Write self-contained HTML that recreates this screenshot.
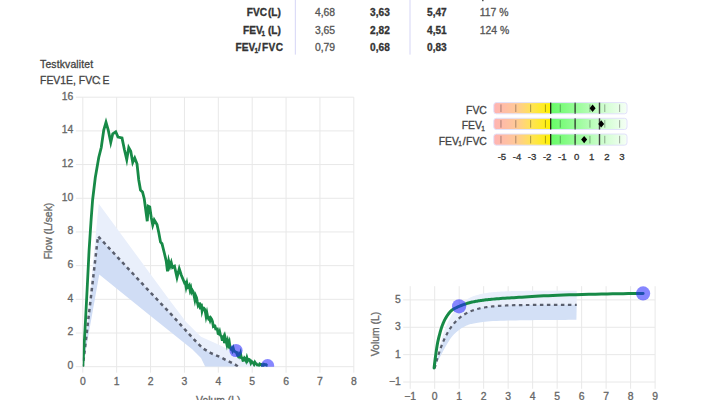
<!DOCTYPE html>
<html lang="nb"><head><meta charset="utf-8"><title>Spirometri</title>
<style>html,body{margin:0;padding:0;background:#fff;}body{width:712px;height:400px;overflow:hidden;}svg{display:block;font-family:"Liberation Sans",Arial,Helvetica,sans-serif;}text{stroke-width:0.3px;}.k333 text{stroke:#333}.k555 text{stroke:#555}.k444 text{stroke:#444}.k666 text{stroke:#666}</style>
</head><body>
<svg width="712" height="400" viewBox="0 0 712 400">
<defs>
<linearGradient id="zg" x1="0" y1="0" x2="1" y2="0">
<stop offset="0" stop-color="#ffb3b3"/>
<stop offset="0.1650" stop-color="#ffc898"/>
<stop offset="0.2764" stop-color="#ffe25a"/>
<stop offset="0.4272" stop-color="#fff200"/>
<stop offset="0.4272" stop-color="#66fb66"/>
<stop offset="0.6104" stop-color="#96fc96"/>
<stop offset="0.7935" stop-color="#c8fdc8"/>
<stop offset="1" stop-color="#f6fff6"/>
</linearGradient>
<clipPath id="c1"><rect x="82.8" y="97.2" width="271.0" height="269.5"/></clipPath>
<clipPath id="c2"><rect x="410.2" y="286.2" width="244.90000000000003" height="95.80000000000001"/></clipPath>
</defs>
<g font-size="10.4" fill="#333" class="k333">
<rect x="294.8" y="0" width="1.2" height="54.6" fill="#dcdcf7"/>
<rect x="409.4" y="0" width="1.2" height="54.6" fill="#dcdcf7"/>
<rect x="482" y="0" width="1.6" height="1.2" fill="#555"/>
<g font-weight="bold" text-anchor="end" font-size="10.15">
<text x="246.8" y="15.7" text-anchor="start">FVC</text><text x="280.9" y="15.7">(L)</text>
<text x="243" y="33.7" text-anchor="start">FEV</text><text x="261.6" y="35.5" font-size="6.4" text-anchor="start">1</text><text x="280.9" y="33.7">(L)</text>
<text x="235.6" y="51.2" text-anchor="start">FEV</text><text x="254.6" y="53.0" font-size="6.4" text-anchor="start">1</text><text x="258" y="51.2" text-anchor="start">/</text><text x="283" y="51.2" textLength="21" lengthAdjust="spacing">FVC</text>
</g>
<g fill="#555" class="k555">
<text x="314.9" y="15.7">4,68</text>
<text x="314.9" y="33.7">3,65</text>
<text x="314.9" y="51.2">0,79</text>
</g>
<g font-weight="bold" font-size="10.15">
<text x="370.1" y="15.7">3,63</text>
<text x="370.1" y="33.7">2,82</text>
<text x="370.1" y="51.2">0,68</text>
<text x="427" y="15.7">5,47</text>
<text x="427" y="33.7">4,51</text>
<text x="427" y="51.2">0,83</text>
</g>
<g fill="#555" class="k555">
<text x="479.8" y="15.7">117 %</text>
<text x="479.8" y="33.7">124 %</text>
</g>
</g>
<g font-size="10.4" fill="#444" class="k444">
<text x="40.1" y="67.8" textLength="53" lengthAdjust="spacing">Testkvalitet</text>
<text x="40.1" y="83.7">FEV1E, FVC<tspan dx="-1.6">:</tspan><tspan dx="-1.2"> E</tspan></text>
</g>
<g stroke="#e8e8e8" stroke-width="1" fill="none">
<line x1="82.80" y1="97.2" x2="82.80" y2="372.7"/>
<line x1="116.67" y1="97.2" x2="116.67" y2="372.7"/>
<line x1="150.55" y1="97.2" x2="150.55" y2="372.7"/>
<line x1="184.43" y1="97.2" x2="184.43" y2="372.7"/>
<line x1="218.30" y1="97.2" x2="218.30" y2="372.7"/>
<line x1="252.18" y1="97.2" x2="252.18" y2="372.7"/>
<line x1="286.05" y1="97.2" x2="286.05" y2="372.7"/>
<line x1="319.93" y1="97.2" x2="319.93" y2="372.7"/>
<line x1="353.80" y1="97.2" x2="353.80" y2="372.7"/>
<line x1="75.8" y1="366.70" x2="353.8" y2="366.70"/>
<line x1="75.8" y1="333.01" x2="353.8" y2="333.01"/>
<line x1="75.8" y1="299.32" x2="353.8" y2="299.32"/>
<line x1="75.8" y1="265.64" x2="353.8" y2="265.64"/>
<line x1="75.8" y1="231.95" x2="353.8" y2="231.95"/>
<line x1="75.8" y1="198.26" x2="353.8" y2="198.26"/>
<line x1="75.8" y1="164.57" x2="353.8" y2="164.57"/>
<line x1="75.8" y1="130.89" x2="353.8" y2="130.89"/>
<line x1="75.8" y1="97.20" x2="353.8" y2="97.20"/>
</g>
<g font-size="10.4" fill="#666" class="k666">
<text x="73.3" y="369.00" text-anchor="end" font-size="10.4">0</text>
<text x="73.3" y="335.31" text-anchor="end" font-size="10.4">2</text>
<text x="73.3" y="301.62" text-anchor="end" font-size="10.4">4</text>
<text x="73.3" y="267.94" text-anchor="end" font-size="10.4">6</text>
<text x="73.3" y="234.25" text-anchor="end" font-size="10.4">8</text>
<text x="73.3" y="200.56" text-anchor="end" font-size="10.4">10</text>
<text x="73.3" y="166.88" text-anchor="end" font-size="10.4">12</text>
<text x="73.3" y="133.19" text-anchor="end" font-size="10.4">14</text>
<text x="73.3" y="99.50" text-anchor="end" font-size="10.4">16</text>
<text x="82.80" y="385.0" text-anchor="middle" font-size="10.4">0</text>
<text x="116.67" y="385.0" text-anchor="middle" font-size="10.4">1</text>
<text x="150.55" y="385.0" text-anchor="middle" font-size="10.4">2</text>
<text x="184.43" y="385.0" text-anchor="middle" font-size="10.4">3</text>
<text x="218.30" y="385.0" text-anchor="middle" font-size="10.4">4</text>
<text x="252.18" y="385.0" text-anchor="middle" font-size="10.4">5</text>
<text x="286.05" y="385.0" text-anchor="middle" font-size="10.4">6</text>
<text x="319.93" y="385.0" text-anchor="middle" font-size="10.4">7</text>
<text x="353.80" y="385.0" text-anchor="middle" font-size="10.4">8</text>
<text x="218.3" y="403.6" text-anchor="middle">Volum (L)</text>
<text transform="translate(52,231) rotate(-90)" text-anchor="middle">Flow (L/sek)</text>
</g>
<g clip-path="url(#c1)">
<polygon points="82.80,366.70 98.75,203.75 169.10,299.50 186.10,322.00 201.00,336.75 220.00,345.25 241.40,355.90 260.50,363.30 265.00,366.70 238.00,366.70 235.00,364.40 228.00,361.00 220.00,357.00 211.00,353.20 203.00,348.40 197.00,342.50 192.50,337.80 171.25,314.40 150.00,292.00 98.00,236.25 82.80,366.70" fill="#e9effb"/>
<polygon points="82.80,366.70 98.00,236.25 150.00,292.00 171.25,314.40 192.50,337.80 197.00,342.50 203.00,348.40 211.00,353.20 220.00,357.00 228.00,361.00 235.00,364.40 238.00,366.70 205.25,366.70 201.00,358.00 192.50,349.50 171.25,332.50 150.00,315.50 99.25,274.50 82.80,366.70" fill="#d0ddf5"/>
<polyline points="82.80,366.70 98.00,236.25 150.00,292.00 171.25,314.40 192.50,337.80 197.00,342.50 203.00,348.40 211.00,353.20 220.00,357.00 228.00,361.00 235.00,364.40 238.00,366.70" fill="none" stroke="#5a5f6e" stroke-width="2.5" stroke-dasharray="3.5 3.5" stroke-dashoffset="1.2"/>
<polyline points="82.80,366.70 85.00,330.00 87.10,290.00 89.10,250.00 91.10,220.00 92.60,200.00 95.30,177.50 98.75,157.50 101.25,147.50 103.75,130.00 106.00,122.20 108.25,130.00 110.75,142.40 112.75,133.75 115.75,131.75 118.00,137.00 122.00,138.00 124.50,150.00 126.75,159.60 128.75,147.60 130.75,151.25 132.75,162.40 134.75,158.00 137.00,163.75 138.75,180.00 140.50,190.00 142.50,192.00 144.25,198.75 145.75,210.00 147.25,221.25 148.25,206.25 149.75,207.00 151.25,217.50 152.75,225.00 154.25,220.00 157.00,224.50 158.75,232.50 160.50,242.00 162.00,243.75 164.50,253.75 166.25,261.25 167.50,271.25 168.75,261.25 170.00,266.25 171.25,262.50 172.50,267.50 174.50,266.25 177.00,277.50 179.25,268.75 181.25,275.00 183.75,281.00 184.50,282.88 185.30,282.44 186.10,286.84 186.90,283.47 187.70,287.61 188.50,287.18 189.30,285.79 190.10,290.23 190.90,288.04 191.70,292.09 192.50,290.67 193.30,292.02 194.10,295.62 194.90,299.71 195.70,295.85 196.50,297.76 197.30,301.87 198.10,305.37 198.90,303.90 199.70,303.80 200.50,309.17 201.30,303.67 202.10,310.72 202.90,307.82 203.70,307.97 204.50,308.98 205.30,311.55 206.10,316.40 206.90,313.03 207.70,317.12 208.50,318.73 209.30,318.02 210.10,320.48 210.90,318.19 211.70,319.37 212.50,321.63 213.30,326.25 214.10,325.61 214.90,325.86 215.70,328.88 216.50,329.00 217.30,328.96 218.10,333.59 218.90,333.97 219.70,331.76 220.50,335.20 221.30,335.91 222.10,339.50 222.90,339.43 223.70,337.22 224.50,343.17 225.30,337.92 226.10,341.05 226.90,344.45 227.70,341.06 228.50,344.45 229.30,342.13 230.10,347.44 230.90,348.92 231.70,348.32 232.50,350.53 233.30,348.39 234.10,351.16 234.90,351.41 235.70,352.12 236.50,352.20 237.30,354.87 238.10,356.09 238.90,354.33 239.70,355.99 240.50,353.53 241.30,357.54 242.10,357.94 242.90,360.42 243.70,360.21 244.50,358.00 245.30,358.92 246.10,360.77 246.90,357.80 247.70,360.47 248.50,359.33 249.30,359.46 250.10,360.60 250.90,362.98 251.70,361.57 252.50,362.29 253.30,362.87 254.10,364.39 254.90,362.35 255.70,363.56 256.50,364.01 257.30,365.12 258.10,365.12 258.90,365.42 259.70,363.95 260.50,364.51 261.30,364.47 262.10,366.03 262.90,366.33 263.70,364.17 264.50,364.33 265.30,364.58 266.10,364.68 266.90,365.48 267.60,365.60" fill="none" stroke="#178a47" stroke-width="2.8" stroke-linejoin="miter" stroke-miterlimit="6"/>
<circle cx="236" cy="350.5" r="6.6" fill="#2222ff" fill-opacity="0.55"/>
<circle cx="267.6" cy="365.6" r="6.6" fill="#2222ff" fill-opacity="0.55"/>
</g>
<g font-size="10.4" fill="#444" class="k444" text-anchor="end">
<text x="486.9" y="113.5">FVC</text>
<text x="484.8" y="129.2">FEV<tspan font-size="6.6" dy="1.6" dx="-0.8">1</tspan></text>
<text x="486.9" y="144.8">FEV<tspan font-size="6.6" dy="1.6" dx="-0.8">1</tspan><tspan dy="-1.6" dx="0.9">/</tspan><tspan dx="0.5">FVC</tspan></text>
</g>
<rect x="493.8" y="102.6" width="133.2" height="11.2" rx="2.5" fill="url(#zg)" stroke="#e2e2fb" stroke-width="1"/>
<rect x="500.40" y="104.39999999999999" width="1.1" height="7.6" fill="#000" fill-opacity="0.3"/>
<rect x="515.23" y="104.39999999999999" width="1.1" height="7.6" fill="#000" fill-opacity="0.3"/>
<rect x="530.06" y="104.39999999999999" width="1.1" height="7.6" fill="#000" fill-opacity="0.3"/>
<rect x="544.89" y="104.39999999999999" width="1.1" height="7.6" fill="#000" fill-opacity="0.3"/>
<rect x="559.72" y="104.39999999999999" width="1.1" height="7.6" fill="#000" fill-opacity="0.3"/>
<rect x="574.55" y="104.39999999999999" width="1.1" height="7.6" fill="#000" fill-opacity="0.3"/>
<rect x="589.38" y="104.39999999999999" width="1.1" height="7.6" fill="#000" fill-opacity="0.3"/>
<rect x="604.21" y="104.39999999999999" width="1.1" height="7.6" fill="#000" fill-opacity="0.3"/>
<rect x="619.04" y="104.39999999999999" width="1.1" height="7.6" fill="#000" fill-opacity="0.3"/>
<rect x="550.10" y="102.6" width="1.2" height="11.2" fill="#111"/>
<rect x="574.60" y="102.6" width="1.0" height="11.2" fill="#222"/>
<rect x="598.80" y="102.6" width="1.4" height="11.2" fill="#444"/>
<polygon points="592.60,104.50 595.60,108.20 592.60,111.90 589.60,108.20" fill="#000"/>
<rect x="493.8" y="118.3" width="133.2" height="11.2" rx="2.5" fill="url(#zg)" stroke="#e2e2fb" stroke-width="1"/>
<rect x="500.40" y="120.1" width="1.1" height="7.6" fill="#000" fill-opacity="0.3"/>
<rect x="515.23" y="120.1" width="1.1" height="7.6" fill="#000" fill-opacity="0.3"/>
<rect x="530.06" y="120.1" width="1.1" height="7.6" fill="#000" fill-opacity="0.3"/>
<rect x="544.89" y="120.1" width="1.1" height="7.6" fill="#000" fill-opacity="0.3"/>
<rect x="559.72" y="120.1" width="1.1" height="7.6" fill="#000" fill-opacity="0.3"/>
<rect x="574.55" y="120.1" width="1.1" height="7.6" fill="#000" fill-opacity="0.3"/>
<rect x="589.38" y="120.1" width="1.1" height="7.6" fill="#000" fill-opacity="0.3"/>
<rect x="604.21" y="120.1" width="1.1" height="7.6" fill="#000" fill-opacity="0.3"/>
<rect x="619.04" y="120.1" width="1.1" height="7.6" fill="#000" fill-opacity="0.3"/>
<rect x="550.10" y="118.3" width="1.2" height="11.2" fill="#111"/>
<rect x="574.60" y="118.3" width="1.0" height="11.2" fill="#222"/>
<rect x="598.80" y="118.3" width="1.4" height="11.2" fill="#444"/>
<polygon points="601.20,120.20 604.20,123.90 601.20,127.60 598.20,123.90" fill="#000"/>
<rect x="493.8" y="134.0" width="133.2" height="11.2" rx="2.5" fill="url(#zg)" stroke="#e2e2fb" stroke-width="1"/>
<rect x="500.40" y="135.8" width="1.1" height="7.6" fill="#000" fill-opacity="0.3"/>
<rect x="515.23" y="135.8" width="1.1" height="7.6" fill="#000" fill-opacity="0.3"/>
<rect x="530.06" y="135.8" width="1.1" height="7.6" fill="#000" fill-opacity="0.3"/>
<rect x="544.89" y="135.8" width="1.1" height="7.6" fill="#000" fill-opacity="0.3"/>
<rect x="559.72" y="135.8" width="1.1" height="7.6" fill="#000" fill-opacity="0.3"/>
<rect x="574.55" y="135.8" width="1.1" height="7.6" fill="#000" fill-opacity="0.3"/>
<rect x="589.38" y="135.8" width="1.1" height="7.6" fill="#000" fill-opacity="0.3"/>
<rect x="604.21" y="135.8" width="1.1" height="7.6" fill="#000" fill-opacity="0.3"/>
<rect x="619.04" y="135.8" width="1.1" height="7.6" fill="#000" fill-opacity="0.3"/>
<rect x="550.10" y="134.0" width="1.2" height="11.2" fill="#111"/>
<rect x="574.60" y="134.0" width="1.0" height="11.2" fill="#222"/>
<rect x="598.80" y="134.0" width="1.4" height="11.2" fill="#444"/>
<polygon points="584.15,135.90 587.15,139.60 584.15,143.30 581.15,139.60" fill="#000"/>
<g font-size="9.6" fill="#333" class="k333" text-anchor="middle">
<text x="501.90" y="159.6">-5</text>
<text x="516.99" y="159.6">-4</text>
<text x="532.08" y="159.6">-3</text>
<text x="547.17" y="159.6">-2</text>
<text x="562.26" y="159.6">-1</text>
<text x="576.65" y="159.6">0</text>
<text x="591.74" y="159.6">1</text>
<text x="606.83" y="159.6">2</text>
<text x="621.92" y="159.6">3</text>
</g>
<g stroke="#e8e8e8" stroke-width="1" fill="none">
<line x1="410.20" y1="286.2" x2="410.20" y2="388.8"/>
<line x1="434.69" y1="286.2" x2="434.69" y2="388.8"/>
<line x1="459.18" y1="286.2" x2="459.18" y2="388.8"/>
<line x1="483.67" y1="286.2" x2="483.67" y2="388.8"/>
<line x1="508.16" y1="286.2" x2="508.16" y2="388.8"/>
<line x1="532.65" y1="286.2" x2="532.65" y2="388.8"/>
<line x1="557.14" y1="286.2" x2="557.14" y2="388.8"/>
<line x1="581.63" y1="286.2" x2="581.63" y2="388.8"/>
<line x1="606.12" y1="286.2" x2="606.12" y2="388.8"/>
<line x1="630.61" y1="286.2" x2="630.61" y2="388.8"/>
<line x1="655.10" y1="286.2" x2="655.10" y2="388.8"/>
<line x1="403.2" y1="382.00" x2="655.1" y2="382.00"/>
<line x1="403.2" y1="354.63" x2="655.1" y2="354.63"/>
<line x1="403.2" y1="327.26" x2="655.1" y2="327.26"/>
<line x1="403.2" y1="299.89" x2="655.1" y2="299.89"/>
</g>
<g font-size="10.4" fill="#666" class="k666">
<text x="400.9" y="385.00" text-anchor="end" font-size="10.4">−1</text>
<text x="400.9" y="357.63" text-anchor="end" font-size="10.4">1</text>
<text x="400.9" y="330.26" text-anchor="end" font-size="10.4">3</text>
<text x="400.9" y="302.89" text-anchor="end" font-size="10.4">5</text>
<text x="410.20" y="400.3" text-anchor="middle" font-size="10.4">−1</text>
<text x="434.69" y="400.3" text-anchor="middle" font-size="10.4">0</text>
<text x="459.18" y="400.3" text-anchor="middle" font-size="10.4">1</text>
<text x="483.67" y="400.3" text-anchor="middle" font-size="10.4">2</text>
<text x="508.16" y="400.3" text-anchor="middle" font-size="10.4">3</text>
<text x="532.65" y="400.3" text-anchor="middle" font-size="10.4">4</text>
<text x="557.14" y="400.3" text-anchor="middle" font-size="10.4">5</text>
<text x="581.63" y="400.3" text-anchor="middle" font-size="10.4">6</text>
<text x="606.12" y="400.3" text-anchor="middle" font-size="10.4">7</text>
<text x="630.61" y="400.3" text-anchor="middle" font-size="10.4">8</text>
<text x="655.10" y="400.3" text-anchor="middle" font-size="10.4">9</text>
<text transform="translate(378.5,334) rotate(-90)" text-anchor="middle">Volum (L)</text>
</g>
<g clip-path="url(#c2)">
<polygon points="434.69,368.31 435.87,362.30 437.06,356.75 438.24,351.63 439.42,346.90 440.61,342.55 441.79,338.53 442.98,334.82 444.16,331.40 445.34,328.24 446.53,325.33 447.71,322.65 448.89,320.17 450.08,317.89 451.26,315.78 452.45,313.84 453.63,312.05 454.81,310.39 456.00,308.87 457.18,307.46 458.36,306.16 459.55,304.96 460.73,303.86 461.91,302.84 463.10,301.90 464.28,301.03 465.47,300.23 466.65,299.49 467.83,298.81 469.02,298.19 470.20,297.61 471.38,297.07 472.57,296.58 473.75,296.12 474.94,295.70 476.12,295.32 477.30,294.96 478.49,294.63 479.67,294.33 480.85,294.05 482.04,293.79 483.22,293.55 484.40,293.33 485.59,293.13 486.77,292.94 487.96,292.77 489.14,292.61 490.32,292.46 491.51,292.33 492.69,292.20 493.87,292.09 495.06,291.98 496.24,291.88 497.43,291.79 498.61,291.71 499.79,291.63 500.98,291.56 502.16,291.50 503.34,291.44 504.53,291.38 505.71,291.33 506.89,291.28 508.08,291.24 509.26,291.20 510.45,291.16 511.63,291.12 512.81,291.09 514.00,291.06 515.18,291.04 516.36,291.01 517.55,290.99 518.73,290.97 519.92,290.95 521.10,290.93 522.28,290.91 523.47,290.90 524.65,290.88 525.83,290.87 527.02,290.86 528.20,290.85 529.38,290.84 530.57,290.83 531.75,290.82 532.94,290.81 534.12,290.80 535.30,290.80 536.49,290.79 537.67,290.79 538.85,290.78 540.04,290.78 541.22,290.77 542.41,290.77 543.59,290.76 544.77,290.76 545.96,290.76 547.14,290.75 548.32,290.75 549.51,290.75 550.69,290.74 551.87,290.74 553.06,290.74 554.24,290.74 555.43,290.74 556.61,290.74 557.79,290.73 558.98,290.73 560.16,290.73 561.34,290.73 562.53,290.73 563.71,290.73 564.90,290.73 566.08,290.73 567.26,290.73 568.45,290.72 569.63,290.72 570.81,290.72 572.00,290.72 573.18,290.72 574.36,290.72 575.55,290.72 576.73,290.72 576.73,304.82 575.55,304.82 574.36,304.82 573.18,304.82 572.00,304.82 570.81,304.82 569.63,304.82 568.45,304.83 567.26,304.83 566.08,304.83 564.90,304.83 563.71,304.83 562.53,304.83 561.34,304.83 560.16,304.83 558.98,304.84 557.79,304.84 556.61,304.84 555.43,304.84 554.24,304.84 553.06,304.85 551.87,304.85 550.69,304.85 549.51,304.85 548.32,304.86 547.14,304.86 545.96,304.87 544.77,304.87 543.59,304.87 542.41,304.88 541.22,304.88 540.04,304.89 538.85,304.90 537.67,304.90 536.49,304.91 535.30,304.92 534.12,304.93 532.94,304.93 531.75,304.94 530.57,304.95 529.38,304.97 528.20,304.98 527.02,304.99 525.83,305.00 524.65,305.02 523.47,305.03 522.28,305.05 521.10,305.07 519.92,305.09 518.73,305.11 517.55,305.14 516.36,305.16 515.18,305.19 514.00,305.22 512.81,305.25 511.63,305.28 510.45,305.32 509.26,305.36 508.08,305.40 506.89,305.45 505.71,305.50 504.53,305.56 503.34,305.61 502.16,305.68 500.98,305.74 499.79,305.82 498.61,305.90 497.43,305.98 496.24,306.07 495.06,306.17 493.87,306.28 492.69,306.39 491.51,306.51 490.32,306.65 489.14,306.79 487.96,306.95 486.77,307.11 485.59,307.29 484.40,307.49 483.22,307.70 482.04,307.92 480.85,308.17 479.67,308.43 478.49,308.71 477.30,309.02 476.12,309.35 474.94,309.70 473.75,310.09 472.57,310.50 471.38,310.95 470.20,311.43 469.02,311.94 467.83,312.50 466.65,313.10 465.47,313.75 464.28,314.45 463.10,315.21 461.91,316.02 460.73,316.90 459.55,317.85 458.36,318.87 457.18,319.97 456.00,321.16 454.81,322.44 453.63,323.82 452.45,325.31 451.26,326.91 450.08,328.64 448.89,330.51 447.71,332.52 446.53,334.69 445.34,337.03 444.16,339.55 442.98,342.27 441.79,345.21 440.61,348.37 439.42,351.78 438.24,355.46 437.06,359.43 435.87,363.70 434.69,368.31" fill="#e9effb"/>
<polygon points="434.69,368.31 435.87,363.70 437.06,359.43 438.24,355.46 439.42,351.78 440.61,348.37 441.79,345.21 442.98,342.27 444.16,339.55 445.34,337.03 446.53,334.69 447.71,332.52 448.89,330.51 450.08,328.64 451.26,326.91 452.45,325.31 453.63,323.82 454.81,322.44 456.00,321.16 457.18,319.97 458.36,318.87 459.55,317.85 460.73,316.90 461.91,316.02 463.10,315.21 464.28,314.45 465.47,313.75 466.65,313.10 467.83,312.50 469.02,311.94 470.20,311.43 471.38,310.95 472.57,310.50 473.75,310.09 474.94,309.70 476.12,309.35 477.30,309.02 478.49,308.71 479.67,308.43 480.85,308.17 482.04,307.92 483.22,307.70 484.40,307.49 485.59,307.29 486.77,307.11 487.96,306.95 489.14,306.79 490.32,306.65 491.51,306.51 492.69,306.39 493.87,306.28 495.06,306.17 496.24,306.07 497.43,305.98 498.61,305.90 499.79,305.82 500.98,305.74 502.16,305.68 503.34,305.61 504.53,305.56 505.71,305.50 506.89,305.45 508.08,305.40 509.26,305.36 510.45,305.32 511.63,305.28 512.81,305.25 514.00,305.22 515.18,305.19 516.36,305.16 517.55,305.14 518.73,305.11 519.92,305.09 521.10,305.07 522.28,305.05 523.47,305.03 524.65,305.02 525.83,305.00 527.02,304.99 528.20,304.98 529.38,304.97 530.57,304.95 531.75,304.94 532.94,304.93 534.12,304.93 535.30,304.92 536.49,304.91 537.67,304.90 538.85,304.90 540.04,304.89 541.22,304.88 542.41,304.88 543.59,304.87 544.77,304.87 545.96,304.87 547.14,304.86 548.32,304.86 549.51,304.85 550.69,304.85 551.87,304.85 553.06,304.85 554.24,304.84 555.43,304.84 556.61,304.84 557.79,304.84 558.98,304.84 560.16,304.83 561.34,304.83 562.53,304.83 563.71,304.83 564.90,304.83 566.08,304.83 567.26,304.83 568.45,304.83 569.63,304.82 570.81,304.82 572.00,304.82 573.18,304.82 574.36,304.82 575.55,304.82 576.73,304.82 576.40,319.80 574.39,319.81 571.74,319.83 568.59,319.86 565.08,319.88 561.32,319.91 557.47,319.94 553.65,319.97 550.00,320.00 546.42,320.03 542.75,320.05 539.01,320.08 535.23,320.11 531.41,320.14 527.58,320.18 523.77,320.23 520.00,320.30 516.15,320.38 512.15,320.46 508.09,320.54 504.06,320.64 500.15,320.75 496.45,320.88 493.03,321.03 490.00,321.20 487.36,321.40 485.02,321.63 482.95,321.89 481.09,322.16 479.42,322.44 477.87,322.72 476.41,322.99 475.00,323.25 473.70,323.48 472.60,323.70 471.64,323.90 470.78,324.10 469.98,324.32 469.20,324.57 468.39,324.86 467.50,325.20 466.56,325.59 465.62,326.00 464.69,326.45 463.75,326.92 462.81,327.44 461.88,328.00 460.94,328.60 460.00,329.25 459.05,329.95 458.09,330.69 457.12,331.48 456.16,332.32 455.20,333.19 454.27,334.09 453.37,335.03 452.50,336.00 451.68,337.00 450.89,338.04 450.14,339.12 449.41,340.23 448.68,341.38 447.96,342.56 447.24,343.76 446.50,345.00 445.75,346.27 445.01,347.59 444.27,348.94 443.52,350.32 442.78,351.72 442.03,353.14 441.27,354.57 440.50,356.00 439.68,357.53 438.78,359.19 437.85,360.92 436.93,362.64 436.05,364.27 435.26,365.74 434.60,366.98 434.10,367.90" fill="#d3e0f6"/>
<polyline points="434.69,368.31 435.87,363.70 437.06,359.43 438.24,355.46 439.42,351.78 440.61,348.37 441.79,345.21 442.98,342.27 444.16,339.55 445.34,337.03 446.53,334.69 447.71,332.52 448.89,330.51 450.08,328.64 451.26,326.91 452.45,325.31 453.63,323.82 454.81,322.44 456.00,321.16 457.18,319.97 458.36,318.87 459.55,317.85 460.73,316.90 461.91,316.02 463.10,315.21 464.28,314.45 465.47,313.75 466.65,313.10 467.83,312.50 469.02,311.94 470.20,311.43 471.38,310.95 472.57,310.50 473.75,310.09 474.94,309.70 476.12,309.35 477.30,309.02 478.49,308.71 479.67,308.43 480.85,308.17 482.04,307.92 483.22,307.70 484.40,307.49 485.59,307.29 486.77,307.11 487.96,306.95 489.14,306.79 490.32,306.65 491.51,306.51 492.69,306.39 493.87,306.28 495.06,306.17 496.24,306.07 497.43,305.98 498.61,305.90 499.79,305.82 500.98,305.74 502.16,305.68 503.34,305.61 504.53,305.56 505.71,305.50 506.89,305.45 508.08,305.40 509.26,305.36 510.45,305.32 511.63,305.28 512.81,305.25 514.00,305.22 515.18,305.19 516.36,305.16 517.55,305.14 518.73,305.11 519.92,305.09 521.10,305.07 522.28,305.05 523.47,305.03 524.65,305.02 525.83,305.00 527.02,304.99 528.20,304.98 529.38,304.97 530.57,304.95 531.75,304.94 532.94,304.93 534.12,304.93 535.30,304.92 536.49,304.91 537.67,304.90 538.85,304.90 540.04,304.89 541.22,304.88 542.41,304.88 543.59,304.87 544.77,304.87 545.96,304.87 547.14,304.86 548.32,304.86 549.51,304.85 550.69,304.85 551.87,304.85 553.06,304.85 554.24,304.84 555.43,304.84 556.61,304.84 557.79,304.84 558.98,304.84 560.16,304.83 561.34,304.83 562.53,304.83 563.71,304.83 564.90,304.83 566.08,304.83 567.26,304.83 568.45,304.83 569.63,304.82 570.81,304.82 572.00,304.82 573.18,304.82 574.36,304.82 575.55,304.82 576.73,304.82" fill="none" stroke="#5a5f6e" stroke-width="2.2" stroke-dasharray="3.5 3.5"/>
<polyline points="434.10,367.90 434.19,367.16 434.30,366.19 434.43,365.05 434.58,363.76 434.75,362.37 434.92,360.92 435.11,359.45 435.30,358.00 435.50,356.49 435.73,354.86 435.97,353.15 436.21,351.40 436.46,349.67 436.72,347.99 436.96,346.42 437.20,345.00 437.43,343.74 437.65,342.59 437.86,341.54 438.08,340.55 438.30,339.60 438.52,338.66 438.75,337.70 439.00,336.70 439.26,335.66 439.53,334.59 439.81,333.52 440.10,332.46 440.39,331.41 440.68,330.39 440.97,329.42 441.25,328.50 441.53,327.63 441.81,326.81 442.09,326.02 442.38,325.27 442.66,324.54 442.94,323.84 443.22,323.16 443.50,322.50 443.78,321.87 444.04,321.27 444.31,320.70 444.58,320.16 444.85,319.62 445.13,319.09 445.43,318.55 445.75,318.00 446.08,317.43 446.43,316.86 446.79,316.28 447.16,315.70 447.54,315.13 447.93,314.57 448.33,314.03 448.75,313.50 449.16,312.99 449.56,312.50 449.97,312.03 450.39,311.56 450.84,311.10 451.33,310.65 451.88,310.20 452.50,309.75 453.19,309.30 453.94,308.86 454.75,308.41 455.59,307.98 456.48,307.55 457.39,307.12 458.31,306.71 459.25,306.30 460.21,305.90 461.22,305.49 462.27,305.09 463.33,304.70 464.40,304.32 465.46,303.96 466.49,303.61 467.50,303.30 468.47,303.01 469.43,302.75 470.37,302.51 471.30,302.29 472.22,302.08 473.14,301.88 474.07,301.69 475.00,301.50 475.94,301.32 476.88,301.15 477.81,300.99 478.75,300.84 479.69,300.70 480.62,300.56 481.56,300.43 482.50,300.30 483.39,300.18 484.20,300.06 484.98,299.95 485.78,299.85 486.64,299.75 487.60,299.64 488.70,299.52 490.00,299.40 491.48,299.26 493.11,299.12 494.86,298.97 496.72,298.82 498.68,298.66 500.72,298.51 502.83,298.35 505.00,298.20 507.17,298.05 509.35,297.91 511.57,297.78 513.89,297.64 516.34,297.49 518.98,297.34 521.85,297.18 525.00,297.00 528.37,296.80 531.91,296.58 535.63,296.35 539.56,296.11 543.72,295.86 548.13,295.63 552.82,295.41 557.80,295.20 563.27,295.01 569.30,294.82 575.70,294.64 582.31,294.47 588.93,294.31 595.41,294.16 601.56,294.02 607.20,293.90 612.58,293.80 617.97,293.71 623.23,293.63 628.24,293.57 632.86,293.52 636.97,293.47 640.42,293.43 643.10,293.40" fill="none" stroke="#178a47" stroke-width="3.0" stroke-linejoin="round" stroke-linecap="round"/>
</g>
<circle cx="459.1" cy="306.3" r="7.1" fill="#2222ff" fill-opacity="0.55"/>
<circle cx="643.1" cy="293.4" r="7.1" fill="#2222ff" fill-opacity="0.55"/>
</svg></body></html>
